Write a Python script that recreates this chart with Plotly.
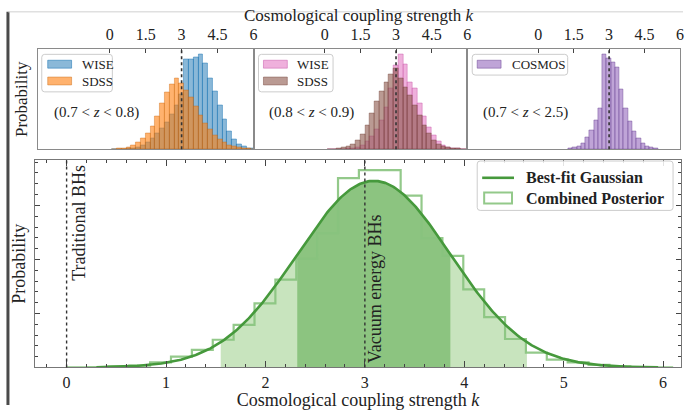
import plotly.graph_objects as go
import numpy as np

W, H = 687, 410
FONT = "Liberation Serif"

# ---------------- data: top panels (bin centres in k, width 0.2) ----------------
TOP_BINS = [0.2, 0.4, 0.6, 0.8, 1.0, 1.2, 1.4, 1.6, 1.8, 2.0,
            2.2, 2.4, 2.6, 2.8, 3.0, 3.2, 3.4, 3.6, 3.8, 4.0,
            4.2, 4.4, 4.6, 4.8, 5.0, 5.2, 5.4, 5.6, 5.8, 6.0]
TOP_W = 0.2

WISE_1 = [0, 0, 0, 0.5, 1, 2, 4, 7, 11, 16,
          21, 27, 35, 44, 55, 91, 91, 93, 96, 87,
          72, 58, 44, 30, 18, 10, 5, 2.5, 1, 0.5]
SDSS_1 = [0, 0.5, 1, 2, 4, 7, 11, 16, 23, 33,
          46, 57, 66, 72, 67, 60, 52, 43, 34, 26,
          20, 14, 10, 7, 4, 2.5, 1.5, 1, 0.5, 0]

WISE_2 = [0, 0, 0, 0, 0.5, 1, 2, 4, 8, 13,
          20, 29, 42, 62, 85, 96, 86, 68, 62, 46,
          33, 22, 14, 8, 4, 2, 1, 0.5, 0, 0]
SDSS_2 = [0, 0, 1, 1.5, 3, 5, 9, 15, 24, 36,
          48, 58, 68, 76, 82, 72, 63, 54, 44, 34,
          24, 16, 9, 5, 2.5, 1.5, 0.8, 0.4, 0, 0]

COSMOS_BINS = [1.37, 1.55, 1.73, 1.91, 2.09, 2.27, 2.45, 2.63, 2.81, 2.99,
               3.17, 3.35, 3.53, 3.71, 3.89, 4.07, 4.25, 4.43, 4.61, 4.79, 4.97]
COSMOS_W = 0.18
COSMOS = [0.7, 1.5, 3, 6, 12, 19, 29, 41, 96, 92,
          88, 83, 61, 41, 28, 18, 11, 6, 3, 1.5, 0.7]

TOP_TICKS = [0, 1.5, 3, 4.5, 6]
TOP_TICKTEXT = ["0", "1.5", "3", "4.5", "6"]
Z_LABELS = ["(0.7 &lt; <i>z</i> &lt; 0.8)", "(0.8 &lt; <i>z</i> &lt; 0.9)", "(0.7 &lt; <i>z</i> &lt; 2.5)"]

# ---------------- data: combined posterior (bottom) ----------------
BIN_LEFT = [0.00, 0.21, 0.42, 0.63, 0.84, 1.05, 1.26, 1.47, 1.68, 1.89,
            2.10, 2.31, 2.52, 2.73, 2.94, 3.15, 3.36, 3.57, 3.78, 3.99,
            4.20, 4.41, 4.62, 4.83, 5.04, 5.25, 5.46, 5.67, 5.88]
BIN_W = 0.21
COMBINED = [0.0, 0.001, 0.003, 0.005, 0.014, 0.030, 0.049, 0.077, 0.118, 0.178,
            0.244, 0.302, 0.373, 0.526, 0.548, 0.548, 0.477, 0.359, 0.310, 0.217,
            0.140, 0.079, 0.041, 0.022, 0.014, 0.007, 0.003, 0.001, 0.0005]
MU, SIGMA = 3.09, 0.77
K_MIN_CURVE, K_MAX_CURVE = 0.3, 5.95
BOTTOM_TICKS = [0, 1, 2, 3, 4, 5, 6]

# ---------------- colours ----------------
C_WISE1 = "rgba(31,119,180,0.52)"
C_WISE1_E = "rgba(31,119,180,0.7)"
C_SDSS1 = "rgba(255,127,14,0.6)"
C_SDSS1_E = "rgba(200,100,10,0.55)"
C_WISE2 = "rgba(227,119,194,0.58)"
C_WISE2_E = "rgba(200,90,170,0.65)"
C_SDSS2 = "rgba(140,86,75,0.6)"
C_SDSS2_E = "rgba(110,60,50,0.55)"
C_COSMOS = "rgba(148,103,189,0.6)"
C_COSMOS_E = "rgba(110,70,150,0.65)"
G_LINE = "#46993c"
G_OUT = "rgba(135,195,125,0.9)"
G_DARK = "rgba(140,196,128,1)"
G_LIGHT = "rgba(200,228,190,1)"


def px(x):
    return x / W


def py(y):
    return 1 - y / H


fig = go.Figure()


def add_bars(xs, ys, width, fill, edge, ax):
    fig.add_trace(go.Bar(x=xs, y=ys, width=width, marker=dict(color=fill, line=dict(color=edge, width=0.7)),
                         xaxis="x" + ax, yaxis="y" + ax, showlegend=False, hoverinfo="skip"))

add_bars(TOP_BINS, WISE_1, TOP_W, C_WISE1, C_WISE1_E, "")
add_bars(TOP_BINS, SDSS_1, TOP_W, C_SDSS1, C_SDSS1_E, "")
add_bars(TOP_BINS, WISE_2, TOP_W, C_WISE2, C_WISE2_E, "2")
add_bars(TOP_BINS, SDSS_2, TOP_W, C_SDSS2, C_SDSS2_E, "2")
add_bars(COSMOS_BINS, COSMOS, COSMOS_W, C_COSMOS, C_COSMOS_E, "3")


def gauss(k):
    return np.exp(-0.5 * ((k - MU) / SIGMA) ** 2) / (SIGMA * np.sqrt(2 * np.pi))

# bottom: shaded 2-sigma and 1-sigma regions under the best-fit Gaussian
for nsig, col in [(2, G_LIGHT), (1, G_DARK)]:
    kr = np.linspace(MU - nsig * SIGMA, MU + nsig * SIGMA, 200)
    fig.add_trace(go.Scatter(x=kr, y=gauss(kr), mode="lines", line=dict(width=0), fill="tozeroy",
                             fillcolor=col, xaxis="x4", yaxis="y4", showlegend=False, hoverinfo="skip"))

# step outline of the combined posterior
edges = BIN_LEFT + [BIN_LEFT[-1] + BIN_W]
sx = [edges[0]] + edges + [edges[-1]]
sy = [0] + COMBINED + [COMBINED[-1], 0]
fig.add_trace(go.Scatter(x=sx, y=sy, mode="lines", line=dict(color=G_OUT, width=2.2, shape="hv"),
                         xaxis="x4", yaxis="y4", showlegend=False, hoverinfo="skip"))

# best-fit gaussian
kk = np.linspace(K_MIN_CURVE, K_MAX_CURVE, 400)
fig.add_trace(go.Scatter(x=kk, y=gauss(kk), mode="lines", line=dict(color=G_LINE, width=2.6),
                         xaxis="x4", yaxis="y4", showlegend=False, hoverinfo="skip"))

# ---------------- axes ----------------
frame = "#8a8a8a"
top_x = dict(side="top", range=[-3, 6], tickvals=TOP_TICKS, ticktext=TOP_TICKTEXT, ticks="inside",
             ticklen=4, tickwidth=1.2, tickcolor="#444", showline=True, linecolor=frame, linewidth=1,
             mirror=True, showgrid=False, zeroline=False, ticklabelstandoff=2,
             tickfont=dict(family=FONT, size=16, color="#222"))
top_y = dict(range=[0, 101], showticklabels=False, ticks="", showline=True, linecolor=frame, linewidth=1,
             mirror=True, showgrid=False, zeroline=False)

d1, d2, d3 = [px(38), px(255)], [px(255), px(470)], [px(470), px(684)]
ytop = [py(151), py(50)]

layout = dict(
    width=W, height=H, margin=dict(l=0, r=0, t=0, b=0),
    paper_bgcolor="white", plot_bgcolor="white", barmode="overlay", bargap=0,
    font=dict(family=FONT, color="#222"),
    xaxis=dict(top_x, domain=d1, anchor="y"),
    yaxis=dict(top_y, domain=ytop, anchor="x",
               title=dict(text="Probability", font=dict(family=FONT, size=17, color="#222"), standoff=4)),
    xaxis2=dict(top_x, domain=d2, anchor="y2"),
    yaxis2=dict(top_y, domain=ytop, anchor="x2"),
    xaxis3=dict(top_x, domain=d3, anchor="y3"),
    yaxis3=dict(top_y, domain=ytop, anchor="x3"),
    xaxis4=dict(domain=[px(35), px(685)], anchor="y4", range=[-0.32, 6.18], tickvals=BOTTOM_TICKS,
                ticks="inside", ticklen=6, tickwidth=1.2, tickcolor="#444",
                minor=dict(dtick=0.2, tick0=0, ticks="inside", ticklen=3, tickcolor="#444"),
                showline=True, linecolor="#777", linewidth=1.2, mirror="allticks",
                showgrid=False, zeroline=False, tickfont=dict(family=FONT, size=16, color="#222"),
                title=dict(text="Cosmological coupling strength <i>k</i>",
                           font=dict(family=FONT, size=18, color="#222"), standoff=7)),
    yaxis4=dict(domain=[py(372), py(162)], anchor="x4", range=[0, 0.576], showticklabels=False,
                dtick=0.15, ticks="inside", ticklen=5, tickcolor="#444",
                minor=dict(dtick=0.03, ticks="inside", ticklen=3, tickcolor="#444"),
                showline=True, linecolor="#777", linewidth=1.2, mirror="allticks",
                showgrid=False, zeroline=False,
                title=dict(text="Probability", font=dict(family=FONT, size=18, color="#222"), standoff=3)),
)
fig.update_layout(**layout)

shapes = []
annotations = []

# dotted reference lines
for ax in ["", "2", "3"]:
    shapes.append(dict(type="line", xref="x" + ax, yref="y" + ax + " domain", x0=3, x1=3, y0=0, y1=1,
                       line=dict(color="#333", width=1.6, dash="dot"), layer="above"))
for k in [0, 3]:
    shapes.append(dict(type="line", xref="x4", yref="y4 domain", x0=k, x1=k, y0=0, y1=1,
                       line=dict(color="#333", width=1.4, dash="dot"), layer="above"))


def rrect(x0, y0, x1, y1, r=3):
    def P(x, y):
        return f"{px(x):.5f},{py(y):.5f}"
    return (f"M{P(x0 + r, y0)} L{P(x1 - r, y0)} Q{P(x1, y0)} {P(x1, y0 + r)} "
            f"L{P(x1, y1 - r)} Q{P(x1, y1)} {P(x1 - r, y1)} L{P(x0 + r, y1)} "
            f"Q{P(x0, y1)} {P(x0, y1 - r)} L{P(x0, y0 + r)} Q{P(x0, y0)} {P(x0 + r, y0)} Z")


def legend_box(x0, y0, x1, y1):
    shapes.append(dict(type="path", xref="paper", yref="paper", path=rrect(x0, y0, x1, y1),
                       fillcolor="rgba(255,255,255,0.85)", line=dict(color="#cccccc", width=1), layer="above"))


def patch(x0, y0, x1, y1, fill, edge):
    shapes.append(dict(type="rect", xref="paper", yref="paper", x0=px(x0), x1=px(x1), y0=py(y1), y1=py(y0),
                       fillcolor=fill, line=dict(color=edge, width=0.8), layer="above"))


def text(x, y, s, size=13, xanchor="left", **kw):
    annotations.append(dict(xref="paper", yref="paper", x=px(x), y=py(y), text=s, showarrow=False,
                            xanchor=xanchor, yanchor="middle", font=dict(family=FONT, size=size, color="#222"), **kw))

# top legends
legend_box(42, 55, 113, 93)
patch(48, 61, 72, 69, C_WISE1, C_WISE1_E)
patch(48, 78, 72, 86, C_SDSS1, C_SDSS1_E)
text(80, 65.5, "WISE")
text(80, 82.5, "SDSS")

legend_box(260, 55, 335, 93)
patch(265, 61, 289, 69, C_WISE2, C_WISE2_E)
patch(265, 78, 289, 86, C_SDSS2, C_SDSS2_E)
text(297, 65.5, "WISE")
text(297, 82.5, "SDSS")

legend_box(475, 55, 571, 76)
patch(480, 61, 504, 69, C_COSMOS, C_COSMOS_E)
text(513, 65.5, "COSMOS")

# redshift labels
for ax, lab in zip(["", "2", "3"], Z_LABELS):
    annotations.append(dict(xref="x" + ax, yref="y" + ax + " domain", x=-0.55, y=0.37, text=lab,
                            showarrow=False, xanchor="center", yanchor="middle",
                            font=dict(family=FONT, size=15, color="#222")))

# top title
text(361, 16, "Cosmological coupling strength <i>k</i>", size=17, xanchor="center")

# bottom legend
legend_box(480, 163, 677, 213)
shapes.append(dict(type="line", xref="paper", yref="paper", x0=px(485), x1=px(517), y0=py(180), y1=py(180),
                   line=dict(color=G_LINE, width=2.6), layer="above"))
shapes.append(dict(type="rect", xref="paper", yref="paper", x0=px(487), x1=px(515), y0=py(206), y1=py(195),
                   fillcolor="rgba(0,0,0,0)", line=dict(color=G_OUT, width=2), layer="above"))
text(527, 180, "<b>Best-fit Gaussian</b>", size=16)
text(527, 201, "<b>Combined Posterior</b>", size=16)

# vertical text labels
annotations.append(dict(xref="x4", yref="y4 domain", x=0.13, y=0.695, text="Traditional BHs", textangle=-90,
                        showarrow=False, xanchor="center", yanchor="middle",
                        font=dict(family=FONT, size=18, color="#222")))
annotations.append(dict(xref="x4", yref="y4 domain", x=3.11, y=0.381, text="Vacuum energy BHs", textangle=-90,
                        showarrow=False, xanchor="center", yanchor="middle",
                        font=dict(family=FONT, size=18, color="#222")))

# screenshot border (left dark edge and top rule)
shapes.append(dict(type="line", xref="paper", yref="paper", x0=px(8), x1=px(8), y0=0, y1=py(12),
                   line=dict(color="#4a4a4a", width=3), layer="above"))
shapes.append(dict(type="line", xref="paper", yref="paper", x0=px(8), x1=1, y0=py(12), y1=py(12),
                   line=dict(color="#d0d0d0", width=1), layer="above"))

fig.update_layout(shapes=shapes, annotations=annotations)
fig.write_html("out.html")
